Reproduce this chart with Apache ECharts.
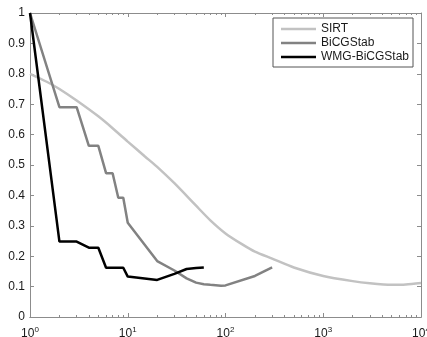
<!DOCTYPE html>
<html>
<head>
<meta charset="utf-8">
<script src="https://cdn.jsdelivr.net/npm/echarts@6/dist/echarts.min.js"></script>
<style>
  html, body { margin: 0; padding: 0; background: #fff; }
  #chart { width: 427px; height: 337px; }
</style>
</head>
<body>
<div id="chart"></div>
<script>
const sirtX = [1, 1.5, 2, 3, 5, 7, 10, 15, 20, 30, 50, 70, 100, 150, 200, 300, 500, 1000, 2000, 3000, 5000, 7000, 10000];
const sirtY = [0.8, 0.773, 0.75, 0.712, 0.66, 0.621, 0.577, 0.528, 0.494, 0.44, 0.366, 0.318, 0.275, 0.238, 0.215, 0.192, 0.163, 0.135, 0.118, 0.111, 0.106, 0.107, 0.112];

const bicgX = [1, 2, 3, 4, 5, 6, 7, 8, 9, 10, 20, 30, 40, 50, 60, 70, 90, 100, 200, 300];
const bicgY = [1, 0.69, 0.69, 0.563, 0.563, 0.473, 0.473, 0.392, 0.392, 0.31, 0.184, 0.153, 0.127, 0.113, 0.108, 0.106, 0.103, 0.104, 0.135, 0.163];

const wmgX = [1, 2, 3, 4, 5, 6, 7, 8, 9, 10, 20, 30, 40, 50, 60];
const wmgY = [1, 0.248, 0.248, 0.228, 0.228, 0.162, 0.162, 0.162, 0.162, 0.133, 0.122, 0.142, 0.158, 0.161, 0.163];

const majorTicks = [1, 10, 100, 1000, 10000];
const minorTicks = [];
majorTicks.slice(0, -1).forEach((d) => {
  for (let k = 2; k <= 9; k++) minorTicks.push(d * k);
});

const AXIS_COLOR = "#8c8c8c";
const TEXT_COLOR = "#1a1a1a";
const FONT = "Liberation Sans";

function pairs(xs, ys) {
  return xs.map((x, i) => [x, ys[i]]);
}

function logAxis(position, ticks, length, withLabels) {
  return {
    type: "log",
    logBase: 10,
    min: 1,
    max: 10000,
    position: position,
    axisLine: { show: true, lineStyle: { color: AXIS_COLOR, width: 1 } },
    axisTick: {
      show: true,
      inside: true,
      length: length,
      customValues: ticks,
      lineStyle: { color: AXIS_COLOR, width: 1 },
    },
    axisLabel: withLabels
      ? {
          show: true,
          customValues: majorTicks,
          margin: 9,
          color: TEXT_COLOR,
          fontFamily: FONT,
          fontSize: 12,
          formatter: (v) => "10{sup|" + Math.round(Math.log10(v)) + "}",
          rich: {
            sup: {
              fontSize: 8,
              fontFamily: FONT,
              color: TEXT_COLOR,
              verticalAlign: "top",
              padding: [0, 0, 8, 0],
            },
          },
        }
      : { show: false },
    splitLine: { show: false },
    minorTick: { show: false },
  };
}

function valueAxis(position, withLabels) {
  return {
    type: "value",
    min: 0,
    max: 1,
    interval: 0.1,
    position: position,
    axisLine: { show: true, lineStyle: { color: AXIS_COLOR, width: 1 } },
    axisTick: { show: true, inside: true, length: 4, lineStyle: { color: AXIS_COLOR } },
    axisLabel: withLabels
      ? { show: true, margin: 5, color: TEXT_COLOR, fontFamily: FONT, fontSize: 12 }
      : { show: false },
    splitLine: { show: false },
  };
}

const chart = echarts.init(document.getElementById("chart"), null, { renderer: "canvas" });

chart.setOption({
  animation: false,
  backgroundColor: "#ffffff",
  grid: {
    left: 30,
    right: 6,
    top: 13,
    bottom: 20,
    containLabel: false,
    outerBoundsMode: "none",
  },
  legend: {
    orient: "vertical",
    left: 273,
    top: 18,
    width: 143,
    icon: "rect",
    itemWidth: 35,
    itemHeight: 2.5,
    itemGap: 0,
    padding: [4, 4, 3, 8],
    borderColor: "#555555",
    borderWidth: 1,
    backgroundColor: "#ffffff",
    textStyle: { fontFamily: FONT, fontSize: 12, color: TEXT_COLOR, lineHeight: 14 },
    data: ["SIRT", "BiCGStab", "WMG-BiCGStab"],
  },
  xAxis: [
    logAxis("bottom", majorTicks, 4, true),
    logAxis("bottom", minorTicks, 2, false),
    logAxis("top", majorTicks, 4, false),
    logAxis("top", minorTicks, 2, false),
  ],
  yAxis: [valueAxis("left", true), valueAxis("right", false)],
  series: [
    {
      name: "SIRT",
      type: "line",
      symbol: "none",
      smooth: 0.25,
      data: pairs(sirtX, sirtY),
      lineStyle: { color: "#c2c2c2", width: 2.5 },
      itemStyle: { color: "#c2c2c2" },
    },
    {
      name: "BiCGStab",
      type: "line",
      symbol: "none",
      data: pairs(bicgX, bicgY),
      lineStyle: { color: "#828282", width: 2.5 },
      itemStyle: { color: "#828282" },
    },
    {
      name: "WMG-BiCGStab",
      type: "line",
      symbol: "none",
      data: pairs(wmgX, wmgY),
      lineStyle: { color: "#000000", width: 2.5 },
      itemStyle: { color: "#000000" },
    },
  ],
});
</script>
</body>
</html>
